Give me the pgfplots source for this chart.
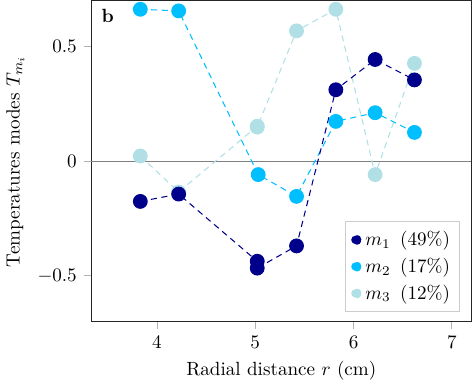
\documentclass[border=0pt]{standalone}
\usepackage{pgfplots}
\pgfplotsset{compat=1.18}
\definecolor{mone}{HTML}{00008B}
\definecolor{mtwo}{HTML}{00BFFF}
\definecolor{mthree}{HTML}{B0E0E6}
\begin{document}
\begin{tikzpicture}
\begin{axis}[
  scale only axis,
  width=199pt, height=168pt,
  xmin=3.33, xmax=7.2, ymin=-0.7, ymax=0.7,
  xtick={4,5,6,7}, ytick={-0.5,0,0.5},
  tick align=outside, tick pos=left,
  major tick length=4pt,
  tick style={gray!60, line width=0.4pt},
  axis line style={black!85, line width=0.6pt},
  xlabel={Radial distance $r$ (cm)},
  ylabel={Temperatures modes $T_{m_i}$},
  reverse legend,
  legend pos=south east,
  legend style={draw=gray!40, line width=0.4pt, font=\normalsize, row sep=1pt, inner xsep=3pt, inner ysep=3pt},
  legend cell align=left,
  every axis plot/.append style={line width=0.55pt, dash pattern=on 3.2pt off 2.4pt, mark=*, mark size=3.6pt},
]
\addplot[gray, solid, no markers, forget plot, line width=0.4pt] coordinates {(3.33,0) (7.2,0)};
\addplot[mthree, mark options={solid, fill=mthree, draw=mthree},
  legend image code/.code={\fill[mthree] (0.12cm,0cm) circle (2.4pt);}] coordinates {
(3.83,0.022) (4.22,-0.135) (5.02,0.152) (5.02,0.148) (5.42,0.568) (5.82,0.662) (6.22,-0.059) (6.62,0.426)};
\addlegendentry{$m_3$\, (12\%)}
\addplot[mtwo, mark options={solid, fill=mtwo, draw=mtwo},
  legend image code/.code={\fill[mtwo] (0.12cm,0cm) circle (2.4pt);}] coordinates {
(3.83,0.662) (4.22,0.655) (5.03,-0.059) (5.42,-0.154) (5.82,0.173) (6.22,0.211) (6.62,0.125)};
\addlegendentry{$m_2$\, (17\%)}
\addplot[mone, mark options={solid, fill=mone, draw=mone},
  legend image code/.code={\fill[mone] (0.12cm,0cm) circle (2.4pt);}] coordinates {
(3.83,-0.176) (4.22,-0.144) (5.02,-0.437) (5.02,-0.467) (5.42,-0.370) (5.82,0.311) (6.22,0.443) (6.62,0.354)};
\addlegendentry{$m_1$\, (49\%)}
\node[anchor=north west, font=\bfseries] at (rel axis cs:0.01,0.995) {b};
\end{axis}
\end{tikzpicture}
\end{document}
